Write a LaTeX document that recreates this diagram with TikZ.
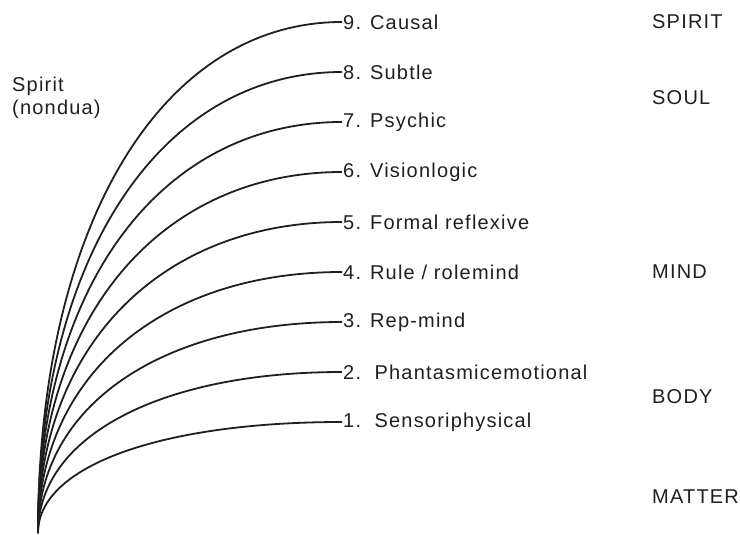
\documentclass[tikz,border=0pt]{standalone}
\usepackage{fontspec}
\setmainfont{Liberation Sans}[LetterSpace=6.0]
\usepackage{tikz}
\tikzset{
    level/.style={anchor=west, inner sep=1pt, text=black!88, font=\fontsize{20}{24}\selectfont},
    realm/.style={anchor=west, inner sep=0pt, text=black!88, font=\fontsize{20}{23}\selectfont},
    branch/.style={line width=1.8pt, black!88},
}

\begin{document}
\begin{tikzpicture}[x=1pt, y=-1pt]
        \useasboundingbox (0,0) rectangle (740,535);
        \coordinate (root) at (38,533);
        \draw (342, 22) node[level](l9) {9. Causal};
        \draw (342, 72) node[level](l8) {8. Subtle};
        \draw (342,122) node[level](l7) {7. Psychic};
        \draw (342,172) node[level](l6) {6. Visionlogic};
        \draw (342,222) node[level](l5) {5. Formal reflexive};
        \draw (342,272) node[level](l4) {4. Rule / rolemind};
        \draw (342,322) node[level](l3) {3. Rep-mind};
        \draw (342,372) node[level](l2) {2.~~Phantasmicemotional};
        \draw (342,422) node[level](l1) {1.~~Sensoriphysical};
        \draw (652, 22) node[realm](spirit) {SPIRIT};
        \draw (652, 98) node[realm](soul) {SOUL};
        \draw (652,272) node[realm](mind) {MIND};
        \draw (652,397) node[realm](body) {BODY};
        \draw (652,497) node[realm](matter) {MATTER};
        \draw (12, 98) node[realm, align=left](nondual) {Spirit\\(nondua)};
        \draw[branch] (root) .. controls +(0,-307) and +(-181,0) .. (l9.west);
        \draw[branch] (root) .. controls +(0,-277) and +(-181,0) .. (l8.west);
        \draw[branch] (root) .. controls +(0,-247) and +(-181,0) .. (l7.west);
        \draw[branch] (root) .. controls +(0,-217) and +(-181,0) .. (l6.west);
        \draw[branch] (root) .. controls +(0,-187) and +(-181,0) .. (l5.west);
        \draw[branch] (root) .. controls +(0,-157) and +(-181,0) .. (l4.west);
        \draw[branch] (root) .. controls +(0,-127) and +(-181,0) .. (l3.west);
        \draw[branch] (root) .. controls +(0,-97) and +(-181,0) .. (l2.west);
        \draw[branch] (root) .. controls +(0,-67) and +(-181,0) .. (l1.west);
    \end{tikzpicture}
\end{document}
